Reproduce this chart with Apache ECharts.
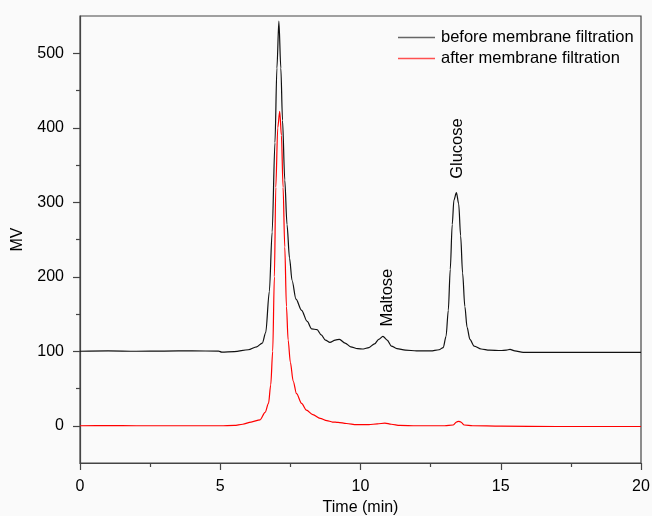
<!DOCTYPE html>
<html>
<head>
<meta charset="utf-8">
<script src="https://cdn.jsdelivr.net/npm/echarts@6/dist/echarts.min.js"></script>
<style>html,body{margin:0;padding:0;background:#fafafa;}#c{width:652px;height:516px;}</style>
</head>
<body>
<div id="c"></div>
<script>
const beforeTime = [0,1,2,3,4,4.95,5.05,5.5,6.0,6.3,6.5,6.62,6.75,6.85,6.95,7.02,7.09,7.16,7.22,7.3,7.38,7.47,7.56,7.7,7.9,8.1,8.26,8.45,8.6,8.75,8.91,9.1,9.25,9.45,9.65,9.9,10.1,10.3,10.5,10.65,10.8,10.95,11.1,11.3,11.6,12.0,12.5,12.8,12.95,13.05,13.13,13.2,13.27,13.33,13.42,13.5,13.57,13.64,13.72,13.8,13.9,14.05,14.3,14.6,15.0,15.2,15.33,15.5,15.8,16.5,18,20];
const beforeMV = [100,100.5,100,100.3,100.5,100.2,98.8,99.5,102,106,111,125,180,260,380,480,543,480,410,330,270,225,195,170,155,140,130,129,122,115,112,115,116,111,106,103.5,103,105,110,116,120,115,107,103.5,101.5,100.5,100.5,102,105,120,155,210,270,303,313,298,255,205,160,132,116,107,103,101.5,101,101.5,102.5,100.5,98.5,98.5,98.5,98.5];
const afterTime = [0,1,2,3,4,5,5.5,5.8,6.1,6.42,6.6,6.72,6.8,6.87,6.93,6.98,7.05,7.12,7.18,7.24,7.3,7.36,7.42,7.5,7.6,7.72,7.9,8.07,8.3,8.56,8.8,9.0,9.2,9.5,9.86,10.3,10.6,10.87,11.1,11.4,12,13,13.3,13.42,13.5,13.58,13.7,14,15,17,20];
const afterMV = [0,0.3,0,0,0,0,0.5,2,5,8,18,30,55,100,200,320,400,422,390,320,240,160,115,85,60,43,30,21,15,10,7,5,4.5,3,1.5,1.5,2.5,3.5,2,0.5,0,0,1,5,6,5,1,0,-0.5,-1,-1];
const peakNames = ['Maltose','Glucose'];
const peakTime = [10.95,13.45];
const peakLabelMV = [172,372];
const xTicks = [0,5,10,15,20];
const yTicks = [0,100,200,300,400,500];
const yMinorTicks = [50,150,250,350,450];
const seriesNames = ['before membrane filtration','after membrane filtration'];

const font = 'Liberation Sans, Arial, sans-serif';
const chart = echarts.init(document.getElementById('c'), null, {renderer:'canvas'});
const zip = (a,b) => a.map((t,i)=>[t,b[i]]);
const axisColor = '#444';
chart.setOption({
  backgroundColor:'#fafafa',
  animation:false,
  grid:{left:80,right:11,top:16,bottom:53,show:true,borderColor:axisColor,borderWidth:1.2,backgroundColor:'transparent',
        containLabel:false,outerBoundsMode:'none'},
  legend:{
    data:seriesNames, orient:'vertical', left:398, top:29, icon:'rect',
    itemWidth:37, itemHeight:1.5, itemGap:4,
    textStyle:{fontFamily:font,fontSize:16.5,color:'#000',padding:[0,0,0,1]},
    padding:0
  },
  xAxis:{
    type:'value', min:0, max:20, interval:5,
    name:'Time (min)', nameLocation:'middle', nameGap:37,
    nameTextStyle:{fontFamily:font,fontSize:16,color:'#000'},
    axisLine:{show:true,onZero:false,lineStyle:{color:axisColor,width:1.2}},
    axisTick:{show:true,inside:false,length:7,lineStyle:{color:axisColor,width:1.2}},
    minorTick:{show:true,splitNumber:2,length:4,lineStyle:{color:axisColor,width:1.2}},
    axisLabel:{fontFamily:font,fontSize:16,color:'#000',margin:16},
    splitLine:{show:false}, minorSplitLine:{show:false}
  },
  yAxis:[{
    type:'value', min:-50, max:550,
    name:'MV', nameLocation:'middle', nameGap:54,
    nameTextStyle:{fontFamily:font,fontSize:16,color:'#000'},
    axisLine:{show:true,onZero:false,lineStyle:{color:axisColor,width:1.2}},
    axisTick:{show:true,inside:false,length:7,customValues:yTicks,lineStyle:{color:axisColor,width:1.2}},
    axisLabel:{fontFamily:font,fontSize:16,color:'#000',margin:16,customValues:yTicks},
    splitLine:{show:false}
  },{
    type:'value', min:-50, max:550, position:'left',
    axisLine:{show:false},
    axisTick:{show:true,inside:false,length:4,customValues:yMinorTicks,lineStyle:{color:axisColor,width:1.2}},
    axisLabel:{show:false},
    splitLine:{show:false}
  }],
  series:[
    {name:seriesNames[0],type:'line',data:zip(beforeTime,beforeMV),showSymbol:false,symbol:'none',
     smooth:0.3,smoothMonotone:'x',lineStyle:{color:'#111',width:1.2},itemStyle:{color:'#666'},z:3},
    {name:seriesNames[1],type:'line',data:zip(afterTime,afterMV),showSymbol:false,symbol:'none',
     smooth:0.3,smoothMonotone:'x',lineStyle:{color:'#ff0000',width:1.2},itemStyle:{color:'#ff5050'},z:2},
    {name:'peaks',type:'scatter',symbolSize:0,silent:true,
     data:peakNames.map((n,i)=>({name:n,value:[peakTime[i],peakLabelMV[i]]})),
     label:{show:true,position:'inside',rotate:90,formatter:p=>p.name,fontFamily:font,fontSize:16.5,color:'#000',opacity:1},
     itemStyle:{opacity:1}}
  ]
});
</script>
</body>
</html>
